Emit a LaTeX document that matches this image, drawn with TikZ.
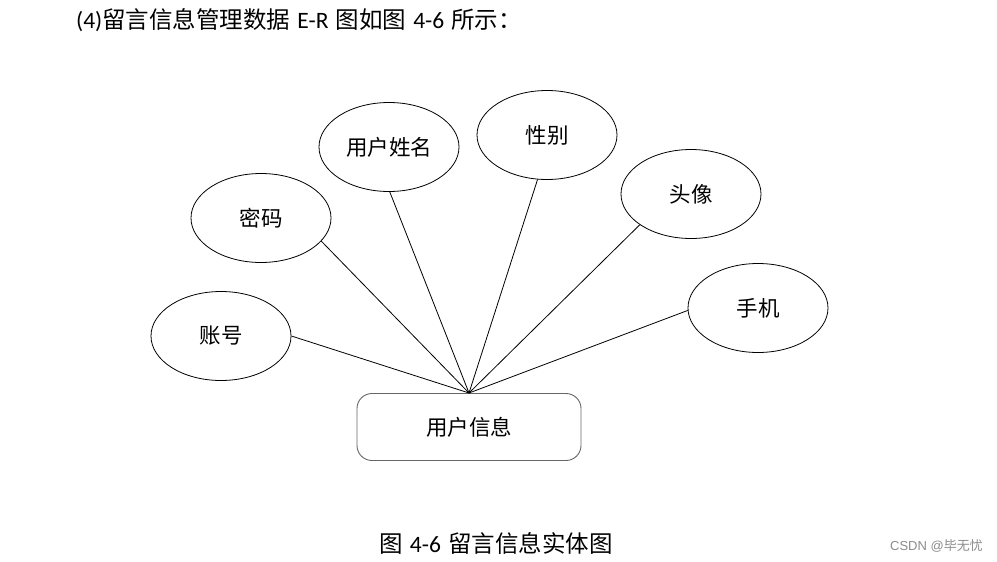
\documentclass[tikz,border=0pt]{standalone}
\usepackage{fontspec}
\newfontfamily\cjk{Noto Sans CJK SC}
\newfontfamily\lat{Carlito}
\newfontfamily\wm{Liberation Sans}
\usetikzlibrary{shapes.geometric}
\begin{document}
\begin{tikzpicture}[x=1pt,y=-1pt,
  attr/.style={draw=black,line width=0.8pt,ellipse,minimum width=140pt,minimum height=89pt,inner sep=0pt,font=\cjk\fontsize{21.5}{24}\selectfont},
  ent/.style={draw=black!60,line width=0.9pt,rounded corners=15pt,minimum width=224pt,minimum height=67pt,inner sep=0pt,font=\cjk\fontsize{21.5}{24}\selectfont},
  link/.style={draw=black,line width=0.8pt}]
\useasboundingbox (0,0) rectangle (997,562);
\fill[white] (0,0) rectangle (997,562);
\node[anchor=west,inner sep=0pt,font=\fontsize{23.5}{26}\selectfont] (title) at (76,20) {{\lat (4)}{\cjk 留言信息管理数据} {\lat E-R} {\cjk 图如图} {\lat 4-6} {\cjk 所示：}};
\node[ent] (u) at (469,427) {用户信息};
\node[attr] (zh) at (221,336) {账号};
\node[attr] (mm) at (261,218) {密码};
\node[attr] (xm) at (389,147) {用户姓名};
\node[attr] (xb) at (547,135) {性别};
\node[attr] (tx) at (691,194) {头像};
\node[attr] (sj) at (758,308) {手机};
\coordinate (c) at (469,393);
\draw[link] (zh.0) -- (c);
\draw[link] (mm.-21) -- (c);
\draw[link] (xm.-89) -- (c);
\draw[link] (xb.-102) -- (c);
\draw[link] (tx.-149) -- (c);
\draw[link] (sj.-178) -- (c);
\node[inner sep=0pt,font=\fontsize{23.5}{26}\selectfont] (cap) at (496,543) {{\cjk 图} {\lat 4-6} {\cjk 留言信息实体图}};
\node[anchor=east,inner sep=0pt,text=black!45,font=\fontsize{13}{15}\selectfont] (wm1) at (983,546) {{\wm CSDN @}{\cjk 毕无忧}};
\end{tikzpicture}
\end{document}
